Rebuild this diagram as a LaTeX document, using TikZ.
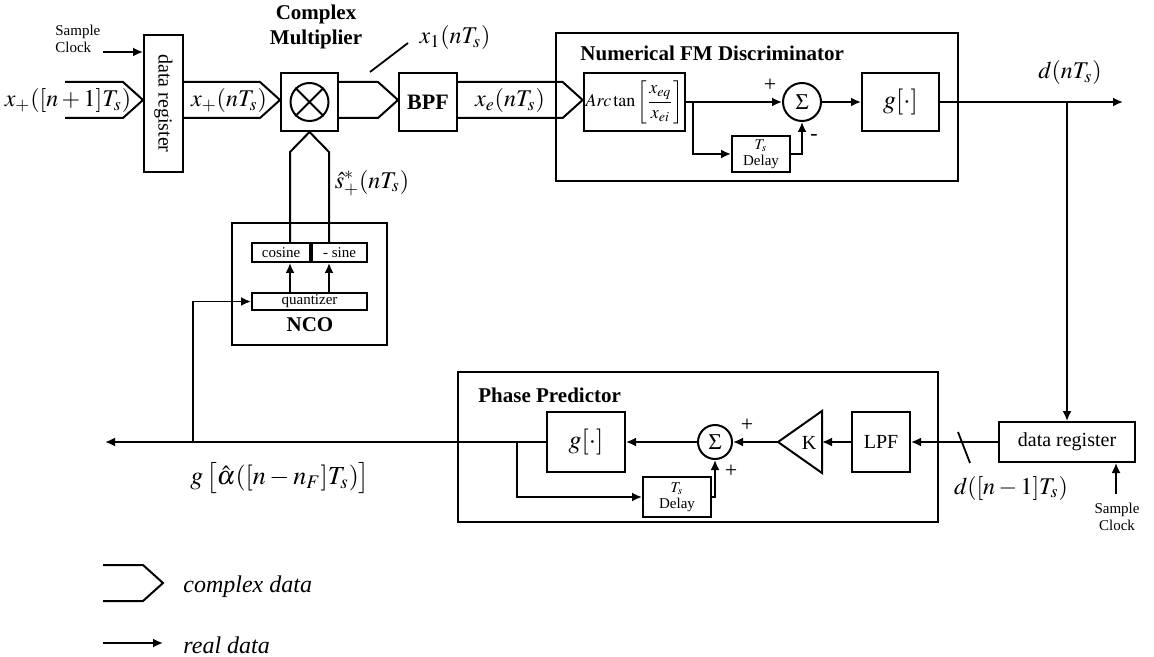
\documentclass[tikz,border=0pt]{standalone}
\usepackage{amsmath}
\usepackage{mathptmx}
\usepackage[no-math]{fontspec}
\setmainfont{Liberation Serif}
\usetikzlibrary{arrows.meta}

\tikzset{
  blk/.style={draw, line width=1pt, inner sep=1pt, font=\fontsize{10}{12}\selectfont},
  subblk/.style={draw, line width=1pt, inner sep=0pt, font=\fontsize{7.5}{8}\selectfont},
  frame/.style={draw, line width=0.8pt},
  sumnode/.style={draw, circle, line width=1pt, inner sep=0pt, font=\fontsize{11}{12}\selectfont},
  sig/.style={line width=0.9pt, -{Latex[length=5pt,width=4.5pt]}},
  wire/.style={line width=0.9pt},
  pipe/.style={line width=1pt, to path={([yshift=9pt]\tikztostart) -- ([xshift=-10pt,yshift=9pt]\tikztotarget) -- (\tikztotarget) -- ([xshift=-10pt,yshift=-9pt]\tikztotarget) -- ([yshift=-9pt]\tikztostart)}},
  pipeup/.style={line width=1pt, to path={([xshift=-9.75pt]\tikztostart) -- ([xshift=-9.75pt,yshift=-10pt]\tikztotarget) -- (\tikztotarget) -- ([xshift=9.75pt,yshift=-10pt]\tikztotarget) -- ([xshift=9.75pt]\tikztostart)}},
  heading/.style={font=\fontsize{10.5}{12.5}\selectfont\bfseries, inner sep=0pt},
  mlbl/.style={font=\fontsize{12}{14}\selectfont, inner sep=0pt},
  tiny/.style={font=\fontsize{7.5}{8.5}\selectfont, inner sep=0pt},
  sgn/.style={font=\fontsize{11}{12}\selectfont, inner sep=0pt}
}

\begin{document}
\begin{tikzpicture}[x=0.5pt, y=-0.5pt]
\useasboundingbox (0,0) rectangle (1154,657);

% input register
\node[tiny, anchor=west, align=left] (clk1lbl) at (55,39) {Sample\\Clock};
\node[blk, minimum width=19.5pt, minimum height=68.5pt] (dreg1) at (163.5,103.5) {\rotatebox{-90}{data register}};
\coordinate (clk1) at (103,52);
\draw[sig] (clk1) -- (clk1 -| dreg1.west);

\coordinate (pin) at (65,100);
\coordinate (p1e) at (pin -| dreg1.west);
\draw[pipe] (pin) to (p1e);
\node[mlbl] (xin) at (68,101) {$x_+([n+1]T_s)$};

% complex multiplier
\node[blk, minimum width=28.5pt, minimum height=29pt] (mult) at (309.5,102) {};
\node[draw, circle, line width=1pt, minimum size=19pt, inner sep=0pt] (mulc) at (mult) {};
\draw[line width=1pt] (mulc.north west) -- (mulc.south east) (mulc.north east) -- (mulc.south west);
\node[heading, align=center] (multlbl) at (316,27) {Complex\\Multiplier};

\coordinate (p2s) at (pin -| dreg1.east);
\coordinate (p2e) at (pin -| mult.west);
\draw[pipe] (p2s) to (p2e);
\node[mlbl] (xn) at (229,101) {$x_+(nT_s)$};

% band pass filter
\node[blk, font=\fontsize{11}{12}\selectfont\bfseries, minimum width=29pt, minimum height=29pt] (bpf) at (428,102) {BPF};
\coordinate (p3s) at (pin -| mult.east);
\coordinate (p3e) at (pin -| bpf.west);
\draw[pipe] (p3s) to (p3e);
\node[mlbl] (x1) at (455,38) {$x_1(nT_s)$};
\draw[wire] (370,72) -- (408,43);

% FM discriminator
\draw[frame] (556,33) rectangle (958,181);
\node[heading, anchor=west] (fmlbl) at (580,53) {Numerical FM Discriminator};
\node[blk, font=\fontsize{9}{10}\selectfont, minimum width=49.5pt, minimum height=29pt] (atan) at (634.5,102) {$Arc\tan\left[\dfrac{x_{eq}}{x_{ei}}\right]$};
\coordinate (p4s) at (pin -| bpf.east);
\coordinate (p4e) at (pin -| atan.west);
\draw[pipe] (p4s) to (p4e);
\node[mlbl] (xe) at (510,101) {$x_e(nT_s)$};

\node[sumnode, minimum size=19pt] (sum1) at (802,102) {$\Sigma$};
\node[subblk, align=center, minimum width=29pt, minimum height=18pt] (dly1) at (761,154) {$T_s$\\Delay};
\node[blk, font=\fontsize{13}{14}\selectfont, minimum width=38.5pt, minimum height=29pt] (g1) at (900.5,102) {$g[\cdot]$};
\draw[sig] (atan.east) -- (sum1.west);
\coordinate (br1) at (693,102);
\draw[sig] (br1) |- (dly1.west);
\draw[sig] (dly1.east) -| (sum1.south);
\draw[sig] (sum1.east) -- (g1.west);
\node[sgn] (pl1) at (770,85) {+};
\node[sgn] (mi1) at (814,137) {-};

% output and second register
\coordinate (dout) at (1123,102);
\draw[sig] (g1.east) -- (dout);
\node[mlbl] (dn) at (1070,73) {$d(nT_s)$};
\node[blk, minimum width=68pt, minimum height=20pt] (dreg2) at (1067,442) {data register};
\coordinate (br4) at (dreg2.north |- dout);
\draw[sig] (br4) -- (dreg2.north);
\coordinate (clk2) at (1116,494);
\draw[sig] (clk2) -- (clk2 |- dreg2.south);
\node[tiny, align=center, anchor=north] (clk2lbl) at (1117,503) {Sample\\Clock};

% phase predictor
\draw[frame] (458,372) rectangle (938,522);
\node[heading, anchor=west] (pplbl) at (478,395) {Phase Predictor};
\node[blk, minimum width=29pt, minimum height=30pt] (lpf) at (881,442) {LPF};
\coordinate (kbase) at (822,442);
\coordinate (ktip) at (778,442);
\draw[line width=1pt] (ktip) -- (822,411) -- (822,473) -- cycle;
\node[font=\fontsize{10}{12}\selectfont, inner sep=0pt] (kamp) at (809,443) {K};
\node[sumnode, minimum size=17pt] (sum2) at (715,442) {$\Sigma$};
\node[blk, font=\fontsize{13}{14}\selectfont, minimum width=39pt, minimum height=30pt] (g2) at (586,442) {$g[\cdot]$};
\node[subblk, align=center, minimum width=34pt, minimum height=20pt] (dly2) at (677,497) {$T_s$\\Delay};
\draw[sig] (dreg2.west) -- (lpf.east);
\draw[sig] (lpf.west) -- (kbase);
\draw[sig] (ktip) -- (sum2.east);
\draw[sig] (sum2.west) -- (g2.east);
\coordinate (br2) at (517,442);
\draw[sig] (br2) |- (dly2.west);
\draw[sig] (dly2.east) -| (sum2.south);
\node[sgn] (pl2) at (747,425) {+};
\node[sgn] (pl3) at (731,471) {+};
\node[mlbl] (dn1) at (1011,488) {$d([n-1]T_s)$};
\draw[wire] (958,432) -- (970,463);

% feedback to NCO
\coordinate (fb) at (105,442);
\draw[sig] (g2.west) -- (fb);
\node[mlbl, font=\fontsize{13}{15}\selectfont] (galpha) at (280,478) {$g\,\bigl[\hat{\alpha}([n-n_F]T_s)\bigr]$};

% NCO
\draw[frame] (232,223) rectangle (387,345);
\node[subblk, minimum width=29pt, minimum height=9.5pt] (cosb) at (281,252.5) {cosine};
\node[subblk, minimum width=27.5pt, minimum height=9.5pt] (sineb) at (339.5,252.5) {- sine};
\node[subblk, minimum width=57.5pt, minimum height=8.5pt] (quant) at (309.5,301.5) {quantizer};
\node[heading] (ncolbl) at (310,325) {NCO};
\draw[sig] ([xshift=-9.75pt]quant.north) -- ([xshift=-9.75pt]quant.north |- cosb.south);
\draw[sig] ([xshift=9.75pt]quant.north) -- ([xshift=9.75pt]quant.north |- sineb.south);
\coordinate (br3) at (193,442);
\draw[sig] (br3) |- (quant.west);
\coordinate (p5s) at (mult.south |- cosb.north);
\draw[pipeup] (p5s) to (mult.south);
\node[mlbl] (shat) at (372,183) {$\hat{s}_+^*(nT_s)$};

% legend
\coordinate (lega) at (103,583);
\coordinate (legb) at (163,583);
\draw[pipe] (lega) to (legb);
\node[mlbl, anchor=west] (legc) at (183,587) {\itshape complex data};
\coordinate (legd) at (103,643);
\coordinate (lege) at (163,643);
\draw[sig] (legd) -- (lege);
\node[mlbl, anchor=west] (legr) at (183,645) {\itshape real data};
\end{tikzpicture}
\end{document}
